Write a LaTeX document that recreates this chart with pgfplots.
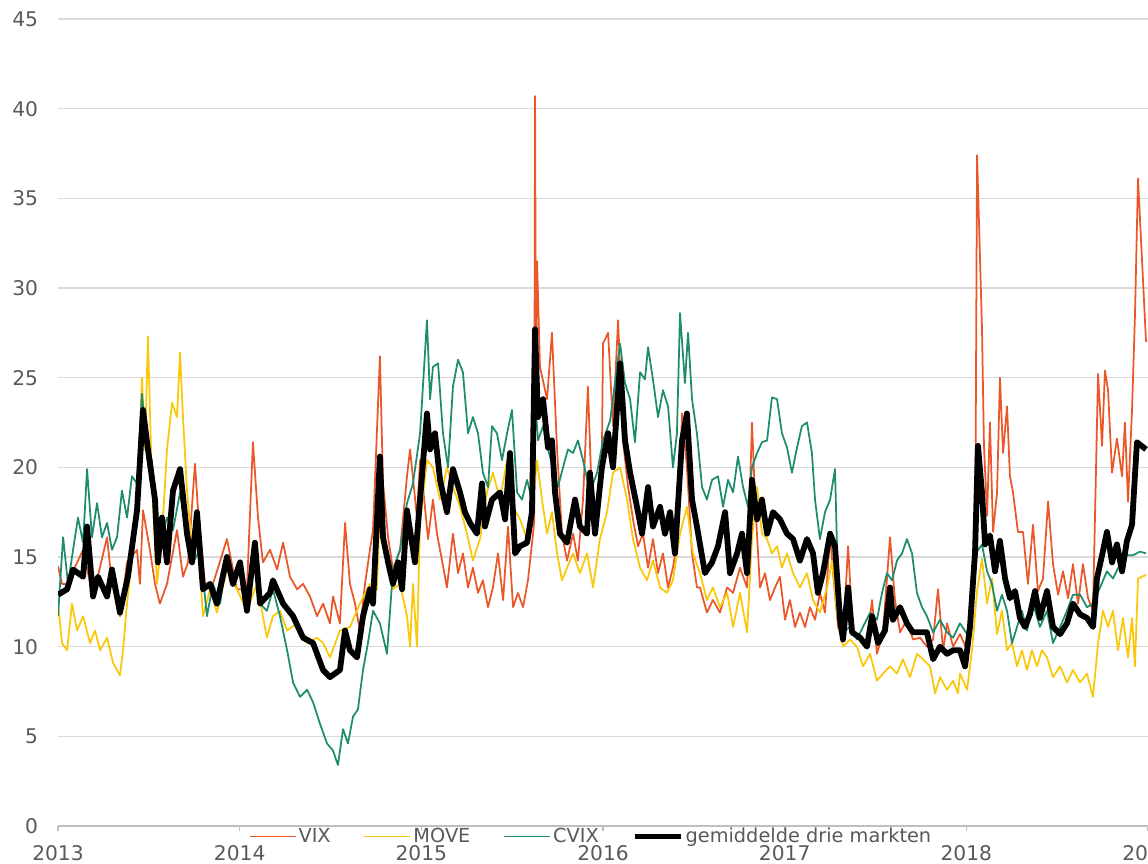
\documentclass[border=0pt]{standalone}
\usepackage{fontspec}
\setmainfont{DejaVu Sans}
\usepackage{pgfplots}
\pgfplotsset{compat=1.18}
\usepackage{pgfplotstable}
\definecolor{vixc}{RGB}{234,88,42}
\definecolor{movec}{RGB}{250,200,10}
\definecolor{cvixc}{RGB}{30,140,110}
\definecolor{gridc}{RGB}{217,217,217}
\definecolor{axisc}{RGB}{191,191,191}
\definecolor{labc}{RGB}{89,89,89}

\pgfplotstableread{
t v
2013.000 14.5
2013.022 13.5
2013.050 13.5
2013.138 15.4
2013.193 12.8
2013.270 16.1
2013.297 13.5
2013.341 11.7
2013.380 14.7
2013.435 15.4
2013.451 13.5
2013.468 17.6
2013.506 15.4
2013.534 13.5
2013.561 12.4
2013.600 13.5
2013.655 16.5
2013.688 13.9
2013.716 14.7
2013.754 20.2
2013.771 17.6
2013.809 13.5
2013.853 13.5
2013.930 16.0
2013.985 13.2
2014.040 13.2
2014.073 21.4
2014.101 17.2
2014.128 14.7
2014.167 15.4
2014.206 14.3
2014.239 15.8
2014.277 13.9
2014.316 13.2
2014.349 13.5
2014.387 12.8
2014.426 11.7
2014.459 12.4
2014.497 11.3
2014.514 12.8
2014.552 11.3
2014.580 16.9
2014.607 13.5
2014.635 12.4
2014.662 10.9
2014.690 13.5
2014.717 15.4
2014.734 16.5
2014.772 26.2
2014.789 19.1
2014.817 16.1
2014.844 14.3
2014.883 15.4
2014.921 19.5
2014.938 21.0
2014.976 17.2
2014.993 20.4
2015.009 18.9
2015.037 16.0
2015.064 18.2
2015.086 16.3
2015.114 14.8
2015.141 13.3
2015.174 16.3
2015.202 14.1
2015.229 15.2
2015.257 13.3
2015.284 14.4
2015.312 13.0
2015.339 13.7
2015.367 12.2
2015.394 13.3
2015.422 15.2
2015.450 12.6
2015.477 16.7
2015.505 12.2
2015.532 13.0
2015.560 12.2
2015.587 13.7
2015.615 16.3
2015.621 17.0
2015.626 40.7
2015.631 24.0
2015.637 31.5
2015.653 25.6
2015.692 23.8
2015.719 27.5
2015.747 21.0
2015.774 16.3
2015.802 14.8
2015.835 16.3
2015.862 14.8
2015.890 18.2
2015.917 24.5
2015.939 18.2
2015.967 16.7
2015.994 20.8
2016.000 26.9
2016.028 27.5
2016.055 22.3
2016.083 28.2
2016.110 21.5
2016.138 18.9
2016.165 17.1
2016.193 15.6
2016.220 16.3
2016.248 14.4
2016.275 16.0
2016.303 14.1
2016.330 15.2
2016.358 13.3
2016.385 14.4
2016.413 16.3
2016.435 23.0
2016.462 20.0
2016.490 15.2
2016.517 13.3
2016.534 13.3
2016.572 11.9
2016.605 12.6
2016.644 11.9
2016.683 13.3
2016.716 13.0
2016.754 14.4
2016.793 13.3
2016.820 22.5
2016.837 18.2
2016.864 13.3
2016.892 14.1
2016.919 12.6
2016.947 13.3
2016.974 13.9
2017.002 11.5
2017.029 12.6
2017.057 11.1
2017.084 11.9
2017.112 11.1
2017.139 12.2
2017.167 11.5
2017.194 13.0
2017.222 11.9
2017.250 16.3
2017.266 14.1
2017.294 11.1
2017.321 10.4
2017.349 15.6
2017.376 10.8
2017.415 10.4
2017.453 10.2
2017.481 12.6
2017.508 9.6
2017.541 10.8
2017.580 16.1
2017.607 12.6
2017.635 10.8
2017.673 11.5
2017.706 10.4
2017.745 10.5
2017.783 10.0
2017.817 10.4
2017.844 13.2
2017.872 9.8
2017.894 11.3
2017.927 10.0
2017.965 10.7
2018.004 9.8
2018.031 12.0
2018.048 14.2
2018.059 37.4
2018.070 33.5
2018.086 27.8
2018.097 21.2
2018.114 17.3
2018.130 22.5
2018.147 16.4
2018.169 18.6
2018.185 25.0
2018.202 20.8
2018.224 23.4
2018.240 19.5
2018.257 18.6
2018.284 16.4
2018.312 16.4
2018.339 13.5
2018.367 16.8
2018.394 13.1
2018.422 13.8
2018.450 18.1
2018.477 14.6
2018.505 12.9
2018.532 14.2
2018.560 12.7
2018.587 14.6
2018.615 12.4
2018.642 14.6
2018.670 12.7
2018.697 12.0
2018.725 25.2
2018.747 21.2
2018.763 25.4
2018.780 24.3
2018.802 19.7
2018.829 21.6
2018.857 19.5
2018.873 22.5
2018.890 18.1
2018.912 23.2
2018.928 28.4
2018.945 36.1
2018.989 27.0
}\vixtab

\pgfplotstableread{
t v
2013.000 12.4
2013.022 10.2
2013.050 9.8
2013.077 12.4
2013.105 10.9
2013.138 11.7
2013.176 10.2
2013.204 10.9
2013.231 9.8
2013.270 10.5
2013.303 9.1
2013.341 8.4
2013.358 9.8
2013.380 12.4
2013.407 15.0
2013.435 17.2
2013.462 25.0
2013.479 21.0
2013.495 27.3
2013.517 19.1
2013.545 13.5
2013.572 16.1
2013.600 21.0
2013.628 23.6
2013.655 22.8
2013.672 26.4
2013.688 22.8
2013.710 18.7
2013.738 15.4
2013.765 16.9
2013.798 11.7
2013.837 13.2
2013.875 11.9
2013.930 14.3
2013.985 13.2
2014.040 12.0
2014.095 13.5
2014.150 10.5
2014.183 11.7
2014.222 12.0
2014.261 10.9
2014.316 11.3
2014.371 10.2
2014.426 10.5
2014.459 10.2
2014.497 9.4
2014.552 10.9
2014.607 11.1
2014.662 12.4
2014.717 13.5
2014.756 13.2
2014.772 18.2
2014.800 15.4
2014.844 13.2
2014.883 13.5
2014.921 11.7
2014.938 10.0
2014.954 13.5
2014.976 10.0
2014.993 17.0
2015.031 20.4
2015.064 20.0
2015.103 18.2
2015.141 20.0
2015.174 18.9
2015.213 17.8
2015.251 16.3
2015.284 14.8
2015.323 16.0
2015.361 18.6
2015.394 19.7
2015.433 18.2
2015.472 20.4
2015.505 17.8
2015.543 17.1
2015.582 16.0
2015.615 18.2
2015.637 20.4
2015.664 18.2
2015.692 16.3
2015.719 17.5
2015.747 15.2
2015.774 13.7
2015.802 14.4
2015.835 15.2
2015.873 14.1
2015.912 15.2
2015.945 13.3
2015.983 16.0
2016.022 17.5
2016.055 19.7
2016.094 20.0
2016.132 18.2
2016.165 16.0
2016.204 14.4
2016.242 13.7
2016.275 14.8
2016.314 13.3
2016.352 13.0
2016.385 13.7
2016.424 16.3
2016.462 17.8
2016.495 15.2
2016.534 14.1
2016.572 12.6
2016.605 13.3
2016.644 12.2
2016.683 13.0
2016.716 11.1
2016.754 13.0
2016.793 10.8
2016.820 16.0
2016.848 18.9
2016.875 16.3
2016.903 16.0
2016.930 15.2
2016.958 15.6
2016.985 14.4
2017.013 15.2
2017.046 14.1
2017.084 13.3
2017.123 14.1
2017.156 12.6
2017.194 11.9
2017.233 13.3
2017.261 14.8
2017.288 11.9
2017.321 10.0
2017.360 10.4
2017.398 10.0
2017.431 8.9
2017.470 9.6
2017.508 8.1
2017.541 8.5
2017.580 8.9
2017.618 8.5
2017.651 9.3
2017.690 8.3
2017.728 9.6
2017.761 9.3
2017.800 8.9
2017.828 7.4
2017.855 8.3
2017.894 7.6
2017.927 8.1
2017.954 7.4
2017.965 8.5
2018.004 7.6
2018.031 9.8
2018.059 13.1
2018.086 14.9
2018.114 12.4
2018.141 13.8
2018.169 10.7
2018.196 12.0
2018.224 9.8
2018.251 10.2
2018.279 8.9
2018.306 9.8
2018.334 8.7
2018.361 9.8
2018.389 8.9
2018.416 9.8
2018.444 9.4
2018.477 8.3
2018.516 8.9
2018.554 8.0
2018.587 8.7
2018.626 8.0
2018.664 8.5
2018.697 7.2
2018.725 10.2
2018.752 12.0
2018.780 11.1
2018.807 12.0
2018.835 9.8
2018.862 11.6
2018.890 9.4
2018.912 11.6
2018.928 8.9
2018.945 13.8
2018.989 14.0
}\movetab

\pgfplotstableread{
t v
2013.000 11.7
2013.028 16.1
2013.055 13.5
2013.083 15.4
2013.110 17.2
2013.138 15.8
2013.160 19.9
2013.187 16.1
2013.215 18.0
2013.242 16.1
2013.270 16.9
2013.297 15.4
2013.325 16.1
2013.352 18.7
2013.380 17.2
2013.407 19.5
2013.435 19.1
2013.462 24.1
2013.490 21.0
2013.517 20.4
2013.545 17.2
2013.572 16.1
2013.600 17.2
2013.633 16.5
2013.672 18.6
2013.710 16.1
2013.743 14.7
2013.782 15.4
2013.820 11.7
2013.853 13.5
2013.892 12.4
2013.930 15.0
2013.963 13.5
2014.002 14.7
2014.040 12.0
2014.073 15.4
2014.112 12.4
2014.150 12.0
2014.183 13.2
2014.222 11.7
2014.261 9.8
2014.294 8.0
2014.332 7.2
2014.371 7.6
2014.404 6.9
2014.442 5.7
2014.481 4.6
2014.514 4.2
2014.541 3.4
2014.569 5.4
2014.596 4.6
2014.624 6.1
2014.651 6.5
2014.679 8.7
2014.706 10.2
2014.734 12.0
2014.772 11.3
2014.811 9.6
2014.844 14.3
2014.883 15.4
2014.921 18.0
2014.954 19.1
2014.993 21.9
2015.031 28.2
2015.048 23.8
2015.064 25.6
2015.092 25.8
2015.119 21.9
2015.147 20.0
2015.174 24.5
2015.202 26.0
2015.229 25.3
2015.257 21.9
2015.284 22.8
2015.312 21.9
2015.339 19.7
2015.367 18.9
2015.389 22.3
2015.416 21.9
2015.444 20.4
2015.472 21.9
2015.499 23.2
2015.527 18.6
2015.554 18.2
2015.582 19.3
2015.609 18.2
2015.626 23.8
2015.642 21.5
2015.670 22.3
2015.697 21.0
2015.725 20.0
2015.752 18.9
2015.780 20.0
2015.807 21.0
2015.835 20.8
2015.862 21.5
2015.890 20.4
2015.928 18.6
2015.967 19.7
2016.000 21.5
2016.039 22.6
2016.077 25.6
2016.094 26.9
2016.121 24.7
2016.149 23.8
2016.176 21.4
2016.204 25.3
2016.231 24.9
2016.248 26.7
2016.275 24.9
2016.303 22.8
2016.330 24.3
2016.358 23.4
2016.385 20.0
2016.407 21.9
2016.424 28.6
2016.451 24.7
2016.468 27.5
2016.490 23.8
2016.517 21.9
2016.545 18.9
2016.572 18.2
2016.600 19.3
2016.633 19.5
2016.661 17.8
2016.688 19.3
2016.716 18.6
2016.743 20.6
2016.771 18.9
2016.798 17.8
2016.820 20.0
2016.848 20.8
2016.875 21.4
2016.903 21.5
2016.930 23.9
2016.958 23.8
2016.985 21.9
2017.013 21.1
2017.040 19.7
2017.068 21.1
2017.095 22.3
2017.123 22.5
2017.150 20.8
2017.167 18.2
2017.194 16.0
2017.222 17.5
2017.250 18.2
2017.277 19.9
2017.294 13.3
2017.321 10.8
2017.360 11.1
2017.398 10.4
2017.431 11.1
2017.470 11.9
2017.508 11.5
2017.536 13.0
2017.563 14.1
2017.591 13.7
2017.618 14.8
2017.646 15.2
2017.673 16.0
2017.701 15.2
2017.728 13.0
2017.756 12.2
2017.783 11.7
2017.817 10.8
2017.855 11.5
2017.894 10.8
2017.927 10.5
2017.965 11.3
2018.004 10.7
2018.031 12.4
2018.059 15.3
2018.086 15.7
2018.114 14.2
2018.141 13.5
2018.169 12.0
2018.196 12.9
2018.224 12.0
2018.251 10.2
2018.279 11.1
2018.306 12.0
2018.334 10.9
2018.367 12.4
2018.405 11.1
2018.444 12.0
2018.477 10.2
2018.516 11.1
2018.554 12.0
2018.587 12.9
2018.626 12.9
2018.664 12.2
2018.697 12.4
2018.736 13.3
2018.774 14.2
2018.807 13.8
2018.846 14.6
2018.884 15.1
2018.917 15.1
2018.956 15.3
2018.989 15.2
}\cvixtab

\pgfplotstableread{
t v
2013.000 12.9
2013.050 13.2
2013.083 14.3
2013.138 13.9
2013.160 16.7
2013.193 12.8
2013.220 13.9
2013.270 12.8
2013.297 14.3
2013.341 11.9
2013.385 13.9
2013.435 17.6
2013.468 23.2
2013.495 21.0
2013.534 18.2
2013.550 14.7
2013.572 17.2
2013.600 14.7
2013.633 18.7
2013.672 19.9
2013.710 16.3
2013.738 14.7
2013.765 17.5
2013.798 13.2
2013.837 13.5
2013.875 12.4
2013.930 15.0
2013.963 13.5
2014.002 14.7
2014.040 12.0
2014.084 15.8
2014.112 12.4
2014.167 13.0
2014.183 13.7
2014.239 12.4
2014.294 11.7
2014.349 10.5
2014.404 10.2
2014.459 8.7
2014.497 8.3
2014.552 8.7
2014.580 10.9
2014.607 9.8
2014.646 9.4
2014.679 11.7
2014.717 13.2
2014.734 12.4
2014.772 20.6
2014.789 16.1
2014.817 14.7
2014.844 13.5
2014.872 14.7
2014.894 13.2
2014.921 17.6
2014.965 14.7
2014.993 18.2
2015.031 23.0
2015.048 21.0
2015.075 21.9
2015.103 19.3
2015.141 17.5
2015.174 19.9
2015.213 18.6
2015.240 17.5
2015.268 16.9
2015.306 16.3
2015.334 19.1
2015.350 16.7
2015.389 18.2
2015.433 18.6
2015.461 17.1
2015.488 20.8
2015.516 15.2
2015.543 15.6
2015.582 15.8
2015.609 17.5
2015.626 27.7
2015.642 22.8
2015.670 23.8
2015.697 21.1
2015.719 21.5
2015.736 18.6
2015.763 16.3
2015.802 15.8
2015.846 18.2
2015.873 16.7
2015.912 16.3
2015.928 19.7
2015.956 16.3
2015.994 20.0
2016.028 21.9
2016.055 20.0
2016.094 25.8
2016.121 21.5
2016.149 19.7
2016.187 17.8
2016.215 16.3
2016.248 18.9
2016.275 16.7
2016.314 17.8
2016.341 16.3
2016.369 17.5
2016.396 15.2
2016.435 21.5
2016.462 23.0
2016.490 18.2
2016.517 16.7
2016.561 14.1
2016.600 14.7
2016.633 15.6
2016.672 17.5
2016.699 14.1
2016.738 15.2
2016.765 16.3
2016.793 14.1
2016.820 19.3
2016.848 17.1
2016.875 18.2
2016.903 16.3
2016.936 17.5
2016.974 17.1
2017.013 16.3
2017.046 16.0
2017.084 14.8
2017.123 16.0
2017.156 15.2
2017.183 13.0
2017.211 14.1
2017.250 16.3
2017.277 15.6
2017.305 11.5
2017.321 10.4
2017.349 13.3
2017.371 10.8
2017.415 10.5
2017.453 10.0
2017.481 11.7
2017.514 10.2
2017.552 10.9
2017.580 13.3
2017.596 11.5
2017.635 12.2
2017.673 11.3
2017.706 10.8
2017.745 10.8
2017.783 10.8
2017.817 9.3
2017.855 10.0
2017.894 9.6
2017.927 9.8
2017.965 9.8
2017.993 8.9
2018.020 11.1
2018.048 15.3
2018.064 21.2
2018.086 18.6
2018.103 15.7
2018.130 16.2
2018.158 14.2
2018.185 15.9
2018.213 13.8
2018.240 12.7
2018.268 13.1
2018.295 11.6
2018.323 11.1
2018.350 11.8
2018.378 13.1
2018.405 11.6
2018.444 13.1
2018.477 11.1
2018.516 10.7
2018.554 11.3
2018.587 12.4
2018.626 11.8
2018.664 11.6
2018.697 11.1
2018.719 13.8
2018.747 15.1
2018.774 16.4
2018.802 14.7
2018.829 15.7
2018.857 14.2
2018.884 15.9
2018.912 16.8
2018.939 21.4
2018.989 21.0
}\avgtab

\begin{document}
\begin{tikzpicture}
\begin{axis}[
  scale only axis,
  width=21.8cm, height=16.14cm,
  xmin=2013, xmax=2019, ymin=0, ymax=45,
  xtick={2013,2014,2015,2016,2017,2018,2019},
  xticklabels={2013,2014,2015,2016,2017,2018,2019},
  ytick={0,5,10,15,20,25,30,35,40,45},
  axis lines*=left,
  axis line style={-},
  x axis line style={draw=axisc, line width=0.6pt},
  y axis line style={draw=none},
  ymajorgrids,
  grid style={draw=gridc, line width=0.6pt},
  tick align=outside,
  xtick style={draw=axisc, line width=0.6pt},
  ytick style={draw=none},
  major tick length=2.8pt,
  ticklabel style={font=\fontsize{11.5}{13}\selectfont, text=labc},
  /pgf/number format/assume math mode=true,
  yticklabel style={xshift=-5pt},
  xticklabel style={yshift=-4.5pt},
  legend columns=-1,
  legend style={at={(0.489,-0.013)}, anchor=center, draw=none, fill=none,
    font=\fontsize{11}{13}\selectfont, text=labc,
    nodes={inner sep=1.2pt},
    /tikz/every even column/.append style={column sep=17.5pt}},
  legend image code/.code={\draw[#1] (0cm,0cm) -- (0.92cm,0cm);},
]
\addplot[vixc, line width=1pt, line join=round] table[x=t, y=v] {\vixtab};
\addlegendentry{VIX}
\addplot[movec, line width=1pt, line join=round] table[x=t, y=v] {\movetab};
\addlegendentry{MOVE}
\addplot[cvixc, line width=1pt, line join=round] table[x=t, y=v] {\cvixtab};
\addlegendentry{CVIX}
\addplot[black, line width=3.3pt, line join=round] table[x=t, y=v] {\avgtab};
\addlegendentry{gemiddelde drie markten}
\end{axis}
\pgfresetboundingbox
\path[use as bounding box] ([xshift=-1.16cm,yshift=-0.76cm]current axis.south west) rectangle ([yshift=0.38cm]current axis.north east);
\end{tikzpicture}
\end{document}
